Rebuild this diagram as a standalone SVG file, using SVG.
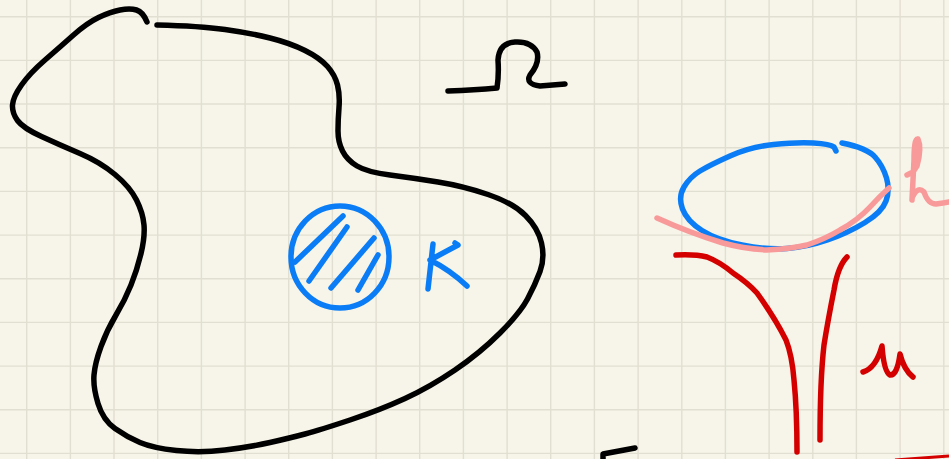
<svg xmlns="http://www.w3.org/2000/svg" width="949" height="459" viewBox="0 0 949 459">
<style>
.grid{stroke:#e1dfd1;stroke-width:1.4;fill:none}
.ink{fill:none;stroke-linecap:round;stroke-linejoin:round;stroke-width:5.5}
.black{stroke:#000}
.blue{stroke:#0a7df6}
.red{stroke:#d40000}
.pink{stroke:#f99a9a}
</style>
<rect width="949" height="459" fill="#f7f5e9"/>
<path class="grid" d="M26.7,0V459M70.4,0V459M114,0V459M157.7,0V459M201.4,0V459M245.1,0V459M288.7,0V459M332.4,0V459M376.1,0V459M419.7,0V459M463.4,0V459M507.1,0V459M550.7,0V459M594.4,0V459M638.1,0V459M681.8,0V459M725.4,0V459M769.1,0V459M812.8,0V459M856.4,0V459M900.1,0V459M943.8,0V459M0,16.7H949M0,60.4H949M0,104H949M0,147.7H949M0,191.4H949M0,235.1H949M0,278.7H949M0,322.4H949M0,366.1H949M0,409.7H949M0,453.4H949"/>
<g id="omega-domain">
<path class="ink black" d="M157,25 Q200,26 225,29.5 Q250,33 270,38 Q290,43 305,50.5 Q320,58 327.5,66.5 Q335,75 337.5,85 Q340,95 339,107.5 Q338,120 338,131 Q338,142 342.5,151 Q347,160 357,166 Q367,172 390,175 Q413,178 438,182 Q463,186 488,194.5 Q513,203 525.5,215.5 Q538,228 541.5,243 Q545,258 540,271.5 Q535,285 527.5,299 Q520,313 500,333 Q480,353 455,370 Q430,387 405,398.5 Q380,410 350,420 Q320,430 305,434 Q290,438 270,442.5 Q250,447 225,450 Q200,453 176.5,450.5 Q153,448 140,442.5 Q127,437 115,428.5 Q103,420 98,403.5 Q93,387 94,375 Q95,363 101,346.5 Q107,330 116,315 Q125,300 131,285 Q137,270 141,253.5 Q145,237 144,225 Q143,213 136.5,200 Q130,187 115,174.5 Q100,162 80,153.5 Q60,145 41.5,136.5 Q23,128 17.5,120.5 Q12,113 12.5,105 Q13,97 21.5,85 Q30,73 45,60 Q60,47 73.5,35 Q87,23 98.5,17.5 Q110,12 120,10 Q130,8 136.5,10 Q143,12 147,22"/>
</g>
<g id="omega-label">
<path class="ink black" d="M448,91 Q475,90 497,88 Q499,75 498,60 Q499,43 515,42 Q531,41 537,52 Q540,63 530,75 Q525,84 540,86 L565,84"/>
</g>
<g id="K-set">
<ellipse class="ink blue" cx="340" cy="257" rx="49" ry="51"/>
<path class="ink blue" d="M295,262 L343,216 M309,281 L347,227 M331,288 L374,238 M358,290 L378,255"/>
</g>
<g id="K-label">
<path class="ink blue" d="M433,244 L428,289 M430,260 L458,245 L455,243 M430,260 Q450,270 467,286"/>
</g>
<g id="blue-ellipse">
<path class="ink blue" d="M842,143 Q867,148 875,157 Q883,166 886.5,178 Q890,190 886,201 Q882,212 865,222.5 Q848,233 827.5,240 Q807,247 787,248.5 Q767,250 742,245 Q717,240 702,230.5 Q687,221 682.5,209 Q678,197 684,187 Q690,177 700,171 Q710,165 730,156 Q750,147 773.5,144.5 Q797,142 813.5,143 Q830,144 834,147 L836,151"/>
</g>
<g id="h-curve">
<path class="ink pink" d="M657,218 Q690,233 723,243 Q745,249 767,250 Q790,249 807,245 Q825,239 840,230 Q858,220 870,207 Q880,196 889,188"/>
</g>
<g id="h-label">
<path class="ink pink" d="M912,200 L914,160 Q914,138 918,139 Q922,148 917,166 L913,172 L907,175"/>
<path class="pink" fill="#f99a9a" d="M913,160 Q913,138 917.5,137 Q922,140 920,158 Q917,170 914,170 Z"/>
<path class="ink pink" d="M913,196 Q918,186 924,192 Q928,204 936,204 Q944,203 949,202"/>
</g>
<g id="u-graph">
<path class="ink red" d="M676,255 Q695,254 707,257 Q720,262 733,273 Q748,283 757,293 Q775,318 786,340 Q792,355 794,380 Q797,410 797,452"/>
<path class="ink red" d="M847,257 Q838,266 834,290 Q828,320 824,345 Q820,380 820,440"/>
</g>
<g id="u-label">
<path class="ink red" d="M863,372 Q876,368 882,346 Q884,372 890,375 Q897,376 900,354 Q904,370 913,377"/>
</g>
<g id="edge-marks">
<path class="ink black" d="M603,462 L603,454 L635,448"/>
<path class="red" stroke-width="3" fill="none" d="M895,460 L949,456"/>
</g>
</svg>
